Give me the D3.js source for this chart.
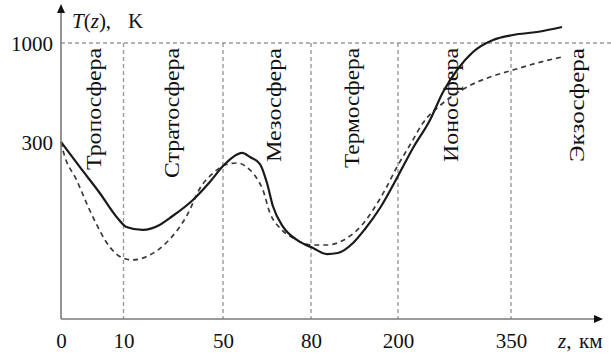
<!DOCTYPE html>
<html><head><meta charset="utf-8">
<script src="https://cdn.jsdelivr.net/npm/d3@7"></script>
<style>html,body{margin:0;padding:0;background:#fff;}svg{display:block;}</style>
</head><body><svg id="c" width="611" height="356"></svg>
<script>
// ---- data ----
const xTicks = [0, 10, 50, 80, 200, 350];
const xTickLabels = ["0", "10", "50", "80", "200", "350"];
const yTicks = [300, 1000];
const yTickLabels = ["300", "1000"];
const boundaries = [10, 50, 80, 200, 350];
const layerNames = ["Тропосфера", "Стратосфера", "Мезосфера", "Термосфера", "Ионосфера", "Экзосфера"];
const layerLabelLen = [122, 130, 114, 120, 114, 114];
const layerLabelPos = [6.4, 32.4, 69.8, 146.2, 279.6, 446.9];

const zSolid = [0, 3.0, 6.2, 8.9, 11.2, 17.7, 24.5, 28.6, 37.9, 44.7, 50, 53.4, 56.5, 59.2, 62.6, 65.0, 67.0, 70.5, 75.2, 82.8, 102, 117, 138, 154.5, 175.2, 200, 219.9, 242.5, 259.8, 278.4, 299.6, 326.1, 352.7, 384.6, 417.8];
const tSolid = [300, 271.8, 242.4, 215.3, 204, 200.6, 206.2, 214.1, 234.5, 254.8, 272.9, 283, 287.6, 283, 275.1, 253.7, 227.7, 204, 189.3, 180.2, 173.4, 174.6, 185.9, 201.7, 225.4, 261.6, 293.2, 455.6, 653.5, 809, 936.4, 1021, 1056.6, 1077.8, 1113];

const zDash = [0, 0.3, 2.5, 5.1, 7.8, 9.9, 13.7, 20.6, 27.5, 35.6, 40.8, 46.1, 50.7, 54.8, 59.2, 61.9, 63.6, 66, 69.4, 73.9, 82.8, 102, 129.7, 150.3, 165.5, 182.1, 200, 215.9, 233.1, 259.8, 291.6, 322.2, 352.7, 384.6, 417.8];
const tDash = [300, 291, 257, 215.3, 181.4, 168.9, 166.7, 172.3, 187, 217.5, 248, 265, 274, 276.3, 268.4, 257, 245.8, 219.8, 202.8, 191.5, 183.6, 183.6, 191.5, 206.2, 223.2, 245.8, 274, 296.6, 434.3, 575.8, 688.9, 759.6, 809, 858.6, 901];

// ---- scales ----
const x = d3.scaleLinear().domain(xTicks).range([61, 123.5, 223, 311, 398, 511]);
const y = d3.scaleLinear().domain([100, 300, 1000]).range([319, 142, 43]);

const svg = d3.select("#c");
const serif = "'Liberation Serif','Times New Roman','DejaVu Serif',serif";

// grid: horizontal at 1000
svg.append("line")
  .attr("x1", x(0)).attr("x2", 611)
  .attr("y1", y(1000)).attr("y2", y(1000))
  .attr("stroke", "#9a9a9a").attr("stroke-width", 1.4).attr("stroke-dasharray", "4,3");
// vertical boundaries
svg.selectAll("line.vb").data(boundaries).enter().append("line")
  .attr("class", "vb")
  .attr("x1", d => x(d)).attr("x2", d => x(d))
  .attr("y1", y(1000)).attr("y2", y(100))
  .attr("stroke", "#9a9a9a").attr("stroke-width", 1.4).attr("stroke-dasharray", "4,3");

// layer labels
svg.selectAll("text.layer").data(layerNames).enter().append("text")
  .attr("class", "layer")
  .attr("transform", (d, i) => `translate(${x(layerLabelPos[i])},48) rotate(-90)`)
  .attr("text-anchor", "end")
  .attr("font-family", serif).attr("font-size", 20).attr("fill", "#111")
  .attr("textLength", (d, i) => layerLabelLen[i])
  .attr("lengthAdjust", "spacingAndGlyphs")
  .text(d => d);

// curves
const line = d3.line().x(d => x(d[0])).y(d => y(d[1])).curve(d3.curveMonotoneX);
svg.append("path")
  .attr("d", line(zDash.map((z, i) => [z, tDash[i]])))
  .attr("fill", "none").attr("stroke", "#3a3a3a").attr("stroke-width", 1.7)
  .attr("stroke-dasharray", "5,4");
svg.append("path")
  .attr("d", line(zSolid.map((z, i) => [z, tSolid[i]])))
  .attr("fill", "none").attr("stroke", "#1a1a1a").attr("stroke-width", 2.2);

// axes
const xAxis = d3.axisBottom(x).tickValues(xTicks).tickFormat((d, i) => xTickLabels[i]).tickSize(0).tickPadding(14);
const gx = svg.append("g").attr("transform", `translate(0,${y(100)})`).call(xAxis);
gx.select(".domain").remove();
gx.selectAll("text").attr("font-family", serif).attr("font-size", 21).attr("fill", "#111");

const yAxis = d3.axisLeft(y).tickValues(yTicks).tickFormat((d, i) => yTickLabels[i]).tickSize(0).tickPadding(8);
const gy = svg.append("g").attr("transform", `translate(${x(0)},0)`).call(yAxis);
gy.select(".domain").remove();
gy.selectAll("text").attr("font-family", serif).attr("font-size", 21).attr("fill", "#111").attr("dy", "0.35em");

// axis lines with arrows
svg.append("line").attr("x1", x(0)).attr("x2", 596).attr("y1", y(100)).attr("y2", y(100))
  .attr("stroke", "#7a7a7a").attr("stroke-width", 1.6);
svg.append("path").attr("d", `M603,${y(100)} L594,${y(100)-4} L594,${y(100)+4} Z`).attr("fill", "#111");
svg.append("line").attr("x1", x(0)).attr("x2", x(0)).attr("y1", y(100)).attr("y2", 12)
  .attr("stroke", "#7a7a7a").attr("stroke-width", 1.6);
svg.append("path").attr("d", `M${x(0)},4 L${x(0)-4},13 L${x(0)+4},13 Z`).attr("fill", "#111");

// axis titles
const yt = svg.append("text").attr("x", 72).attr("y", 28)
  .attr("font-family", serif).attr("font-size", 21).attr("fill", "#111");
yt.append("tspan").attr("font-style", "italic").text("T");
yt.append("tspan").text("(");
yt.append("tspan").attr("font-style", "italic").text("z");
yt.append("tspan").text("),");
yt.append("tspan").attr("x", 128).text("K");

const xt = svg.append("text").attr("x", 558).attr("y", 348)
  .attr("font-family", serif).attr("font-size", 21).attr("fill", "#111");
xt.append("tspan").attr("font-style", "italic").text("z");
xt.append("tspan").text(",");
xt.append("tspan").attr("x", 579).text("км");
</script></body></html>
